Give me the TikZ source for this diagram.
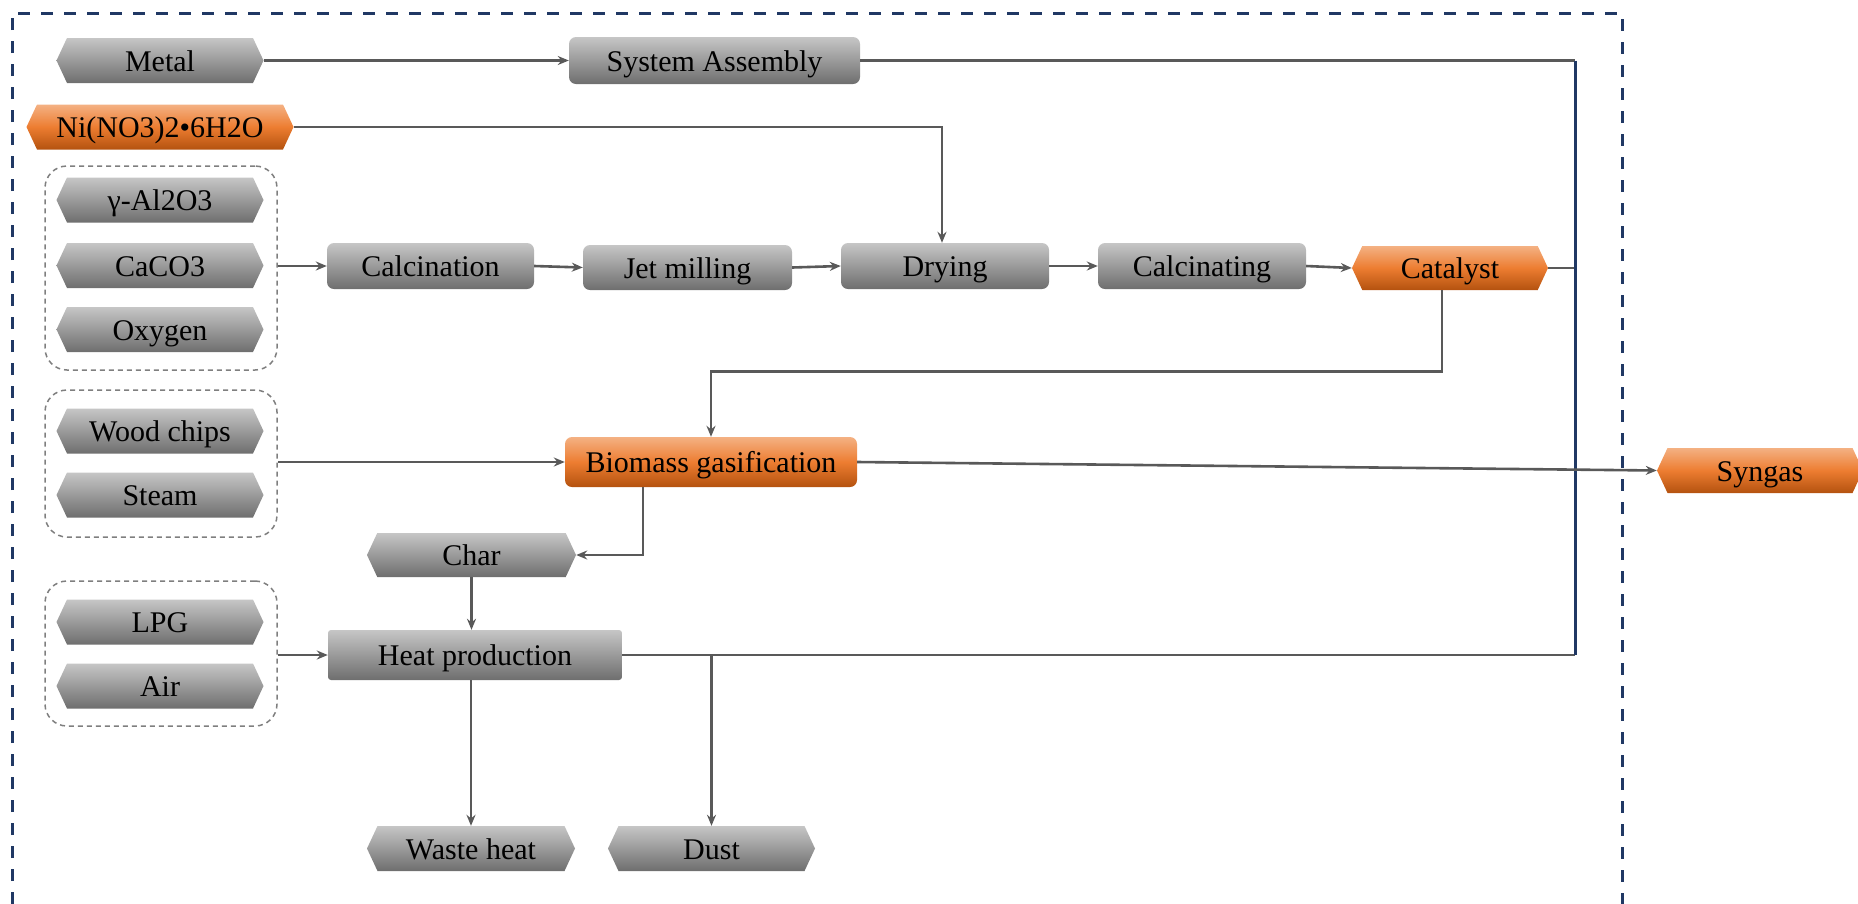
\documentclass[tikz,border=0pt]{standalone}
\usepackage{fontspec}
\setmainfont{Liberation Serif}
\usetikzlibrary{shapes.symbols,arrows.meta,calc}

\definecolor{navy}{HTML}{203864}
\definecolor{gtop}{HTML}{C6C6C6}
\definecolor{gbot}{HTML}{6E6E6E}
\definecolor{otop}{HTML}{F4B183}
\definecolor{omid}{HTML}{ED7D31}
\definecolor{obot}{HTML}{B4520F}
\definecolor{linegray}{HTML}{595959}
\definecolor{grpgray}{HTML}{7F7F7F}

\begin{document}
\begin{tikzpicture}[x=1pt,y=-1pt,
  lbl/.style={font=\fontsize{30}{35}\selectfont, inner sep=0pt, text=black,
    text height=24pt, text depth=3pt},
  hexbase/.style={lbl, signal, signal to=west and east, signal pointer angle=130, minimum height=45pt},
  grayfill/.style={top color=gtop, bottom color=gbot},
  orangefill/.style={top color=otop, bottom color=obot, middle color=omid},
  ghex/.style={hexbase, grayfill},
  ohex/.style={hexbase, orangefill},
  gbox/.style={lbl, rectangle, rounded corners=7pt, grayfill, minimum height=46pt},
  obox/.style={lbl, rectangle, rounded corners=7pt, orangefill, minimum height=50pt},
  grp/.style={draw=grpgray, dash pattern=on 5pt off 4pt, line width=1.5pt, rounded corners=22pt, inner sep=0pt},
  flow/.style={draw=linegray, line width=2.6pt, -{Stealth[length=11pt,width=9pt]}},
  link/.style={draw=linegray, line width=2.6pt},
  outerframe/.style={draw=navy, line width=3pt, dash pattern=on 12pt off 11pt},
  bus/.style={draw=navy, line width=3pt},
]
\useasboundingbox (0,0) rectangle (1858,903);
\clip (0,0) rectangle (1858,903);

% outer dashed system boundary (open at the bottom)
\draw[outerframe] (12,950) -- (12,13) -- (1622,13) -- (1622,950);

% input groups
\node[grp, minimum width=232pt, minimum height=204pt] (g1) at (161,268) {};
\node[grp, minimum width=232pt, minimum height=147pt] (g2) at (161,463.5) {};
\node[grp, minimum width=232pt, minimum height=145pt] (g3) at (161,653.5) {};

% inputs
\node[ghex, minimum width=207pt] (metal) at (160,60.5) {Metal};
\node[ohex, minimum width=267pt] (ni) at (160,127) {Ni(NO3)2•6H2O};
\node[ghex, minimum width=207pt] (alo) at (160,200) {γ-Al2O3};
\node[ghex, minimum width=207pt] (caco) at (160,265.5) {CaCO3};
\node[ghex, minimum width=207pt] (oxy) at (160,329.5) {Oxygen};
\node[ghex, minimum width=207pt] (wood) at (160,431) {Wood chips};
\node[ghex, minimum width=207pt] (steam) at (160,495) {Steam};
\node[ghex, minimum width=207pt] (lpg) at (160,622) {LPG};
\node[ghex, minimum width=207pt] (air) at (160,686) {Air};

% process steps
\node[gbox, minimum width=291pt, minimum height=47pt] (sys) at (714.5,60.5) {System Assembly};
\node[gbox, minimum width=207pt] (calc) at (430.5,266) {Calcination};
\node[gbox, minimum width=209pt, minimum height=45pt] (jet) at (687.5,267.5) {Jet milling};
\node[gbox, minimum width=208pt] (dry) at (945,266) {Drying};
\node[gbox, minimum width=208pt] (calcg) at (1202,266) {Calcinating};
\node[ohex, minimum width=196pt, minimum height=44pt] (cat) at (1450,268) {Catalyst};
\node[obox, minimum width=292pt] (bio) at (711,462) {Biomass gasification};
\node[ohex, minimum width=206pt] (syn) at (1760,470.5) {Syngas};
\node[ghex, minimum width=209pt, minimum height=44pt] (char) at (471.5,555) {Char};
\node[gbox, rounded corners=3pt, minimum width=294pt, minimum height=50pt] (heat) at (475,655) {Heat production};
\node[ghex, minimum width=208pt] (waste) at (471,848.5) {Waste heat};
\node[ghex, minimum width=207pt] (dust) at (711.5,848.5) {Dust};

% connectors
\coordinate (busx) at (1575,0);
\draw[flow] (metal.east) -- (sys.west);
\draw[flow] (ni.east) -| ([xshift=-3pt]dry.north);
\draw[flow] (g1.east |- calc.west) -- (calc.west);
\draw[flow] (calc.east) -- (jet.west);
\draw[flow] (jet.east) -- (dry.west);
\draw[flow] (dry.east) -- (calcg.west);
\draw[flow] (calcg.east) -- (cat.west);
\draw[link] (sys.east) -- (sys.east -| busx);
\draw[link] (cat.east) -- (cat.east -| busx);
\draw[link] (heat.east) -- (heat.east -| busx);
\draw[bus] (sys.east -| busx) -- (heat.east -| busx);
\draw[flow] ([xshift=-8pt]cat.south) -- ++(0,81) -| (bio.north);
\draw[flow] (g2.east |- bio.west) -- (bio.west);
\draw[flow] (bio.east) -- (syn.west);
\draw[flow] ([xshift=-68pt]bio.south) |- (char.east);
\draw[flow] (char.south) -- (char.south |- heat.north);
\draw[flow] (g3.east |- heat.west) -- (heat.west);
\draw[flow] (heat.south -| waste.north) -- (waste.north);
\draw[flow] (dust.north |- heat.east) -- (dust.north);
\end{tikzpicture}
\end{document}
